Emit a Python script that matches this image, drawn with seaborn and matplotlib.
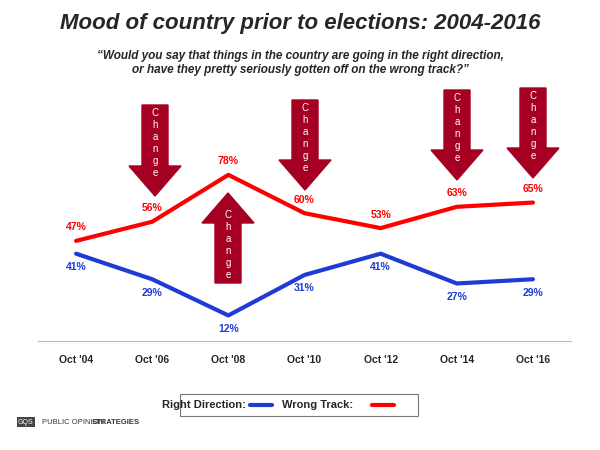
import matplotlib
matplotlib.use("Agg")
import matplotlib.pyplot as plt
import seaborn as sns
import pandas as pd
from matplotlib.patches import Polygon

years = ["Oct '04", "Oct '06", "Oct '08", "Oct '10", "Oct '12", "Oct '14", "Oct '16"]
right_direction = [41, 29, 12, 31, 41, 27, 29]
wrong_track = [47, 56, 78, 60, 53, 63, 65]

RED = "#FF0000"
BLUE = "#1F3BD6"
DARK = "#A50021"

sns.set_style("white")
plt.rcParams["font.family"] = ["Liberation Sans", "DejaVu Sans"]

fig = plt.figure(figsize=(6, 4.5), dpi=100)
W, H = 600, 450
# axes in pixel terms: x 38..571, y 128..341
ax = fig.add_axes([38 / W, 1 - 341 / H, (571 - 38) / W, (341 - 128) / H])

df = pd.DataFrame({"x": range(len(years)), "rd": right_direction, "wt": wrong_track})
sns.lineplot(data=df, x="x", y="wt", color=RED, lw=3, ax=ax)
sns.lineplot(data=df, x="x", y="rd", color=BLUE, lw=3, ax=ax)

for i, v in enumerate(wrong_track):
    ax.text(i, v + 4, f"{v}%", color=RED, ha="center", va="bottom", fontsize=7.5, fontweight="bold")
for i, v in enumerate(right_direction):
    ax.text(i, v - 4, f"{v}%", color=BLUE, ha="center", va="top", fontsize=7.5, fontweight="bold")

ax.set_xlim(-0.5, 6.5)
ax.set_ylim(0, 100)
ax.set_xticks(range(len(years)))
ax.set_xticklabels(years, fontsize=7.5, fontweight="bold")
ax.set_yticks([])
ax.set_xlabel("")
ax.set_ylabel("")
for s in ["left", "right", "top"]:
    ax.spines[s].set_visible(False)
ax.spines["bottom"].set_color("#BBBBBB")
ax.tick_params(axis="x", length=0, pad=10)


def block_arrow(cx, tail, tip):
    # pixel coords, converted to figure fraction
    sw, hw, hl = 13, 26, 30
    d = 1 if tip > tail else -1
    neck = tip - d * hl
    pts = [(cx - sw, tail), (cx + sw, tail), (cx + sw, neck), (cx + hw, neck),
           (cx, tip), (cx - hw, neck), (cx - sw, neck)]
    pts = [(x / W, 1 - y / H) for x, y in pts]
    fig.patches.append(Polygon(pts, closed=True, color=DARK, transform=fig.transFigure))
    mid = (tail + neck) / 2 + d * 8
    fig.text(cx / W, 1 - mid / H, "\n".join("Change"), color="white", fontsize=7,
             ha="center", va="center", linespacing=1.25)


block_arrow(155, 105, 196)
block_arrow(305, 100, 190)
block_arrow(457, 90, 180)
block_arrow(533, 88, 178)
block_arrow(228, 283, 193)

fig.text(0.5, 1 - 24 / H, "Mood of country prior to elections: 2004-2016",
         ha="center", va="center", fontsize=16, fontweight="bold", style="italic")
fig.text(0.5, 1 - 63 / H,
         "\u201cWould you say that things in the country are going in the right direction,\n"
         "or have they pretty seriously gotten off on the wrong track?\u201d",
         ha="center", va="center", fontsize=8.5, fontweight="bold", style="italic")

# legend box
fig.patches.append(plt.Rectangle((180 / W, 1 - 416 / H), 238 / W, 22 / H, fill=False,
                                 ec="#777777", lw=0.8, transform=fig.transFigure))
fig.text(246 / W, 1 - 405 / H, "Right Direction:", ha="right", va="center", fontsize=8,
         fontweight="bold")
fig.lines.append(plt.Line2D([250 / W, 272 / W], [1 - 405 / H] * 2, color=BLUE, lw=3,
                            transform=fig.transFigure))
fig.text(282 / W, 1 - 405 / H, "Wrong Track:", ha="left", va="center", fontsize=8,
         fontweight="bold")
fig.lines.append(plt.Line2D([372 / W, 394 / W], [1 - 405 / H] * 2, color=RED, lw=3,
                            transform=fig.transFigure))

fig.text(18 / W, 1 - 422 / H, "GQS", fontsize=5, color="white", va="center",
         bbox=dict(boxstyle="square,pad=0.2", fc="#444444", ec="none"))
fig.text(42 / W, 1 - 422 / H, "PUBLIC OPINION", fontsize=5.5, va="center", color="#333333")
fig.text(92 / W, 1 - 422 / H, "STRATEGIES", fontsize=5.5, va="center", fontweight="bold",
         color="#333333")

fig.savefig("out.png", dpi=100)
